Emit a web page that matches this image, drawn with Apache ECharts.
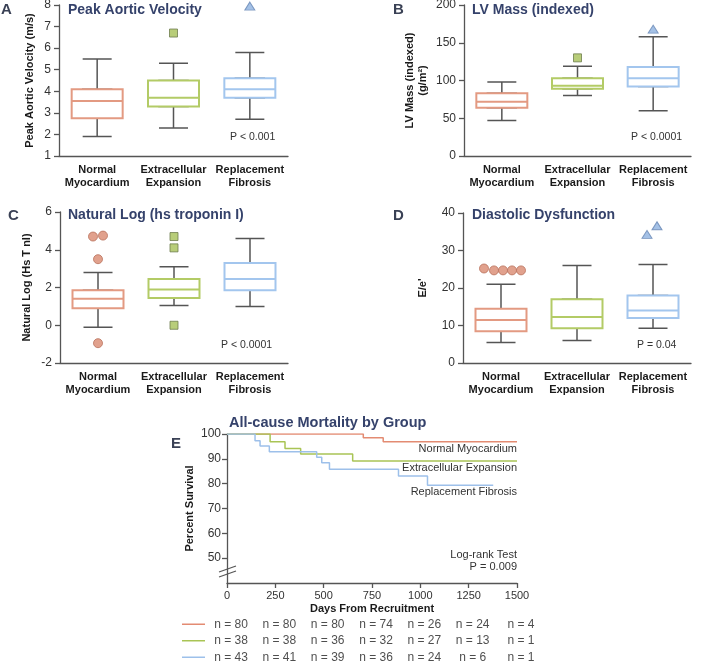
<!DOCTYPE html>
<html>
<head>
<meta charset="utf-8">
<script src="https://cdn.jsdelivr.net/npm/echarts@6/dist/echarts.min.js"></script>
<style>
html, body { margin: 0; padding: 0; background: #fff; }
#main { width: 708px; height: 663px; }
</style>
</head>
<body>
<div id="main"></div>
<script>
// groups
const groups = ['Normal\nMyocardium', 'Extracellular\nExpansion', 'Replacement\nFibrosis'];

// box stats: [min, Q1, median, Q3, max]
const peakVelBox = [[1.9, 2.75, 3.55, 4.1, 5.5], [2.3, 3.3, 3.7, 4.5, 5.3], [2.7, 3.7, 4.1, 4.6, 5.8]];
const lvMassBox = [[47, 64, 72, 83, 98], [80, 89, 93, 103, 119], [60, 92, 103, 118, 158]];
const tropBox = [[-0.1, 0.9, 1.4, 1.85, 2.8], [1.05, 1.45, 1.9, 2.45, 3.1], [1.0, 1.85, 2.45, 3.3, 4.6]];
const eeBox = [[5.5, 8.5, 11.5, 14.5, 21], [6, 9.3, 12.3, 17, 26], [9.3, 12, 14, 18, 26.3]];

// outliers: [group index, value]
const peakVelOut = [[1, 6.7], [2, 7.95]];
const lvMassOut = [[1, 130], [2, 168]];
const tropOut = [[0, 4.7], [0, 4.75], [0, 3.5], [0, -0.95], [1, 4.7], [1, 4.1], [1, 0.0]];
const eeOut = [[0, 25.2], [0, 24.7], [0, 24.7], [0, 24.7], [0, 24.7], [2, 34.3], [2, 36.6]];

const pValues = ['P < 0.001', 'P < 0.0001', 'P < 0.0001', 'P = 0.04'];

// Kaplan-Meier steps: [day, percent survival]
const kmNormal = [[0, 100], [705, 98.5], [808, 96.9], [1500, 96.9]];
const kmExtra = [[0, 100], [223, 96.9], [300, 94.2], [381, 91.9], [650, 89.1], [1500, 89.1]];
const kmRepl = [[0, 100], [145, 97.3], [171, 95.2], [219, 92.9], [464, 90.6], [490, 88.4], [530, 85.8], [887, 83.1], [1037, 79.4], [1377, 79.4]];
const kmNames = ['Normal Myocardium', 'Extracellular Expansion', 'Replacement Fibrosis'];

// numbers at risk
const riskDays = [0, 250, 500, 750, 1000, 1250, 1500];
const riskNormal = [80, 80, 80, 74, 26, 24, 4];
const riskExtra = [38, 38, 36, 32, 27, 13, 1];
const riskRepl = [43, 41, 39, 36, 24, 6, 1];

// styles
const FONT = '"Liberation Sans", Arial, Helvetica, sans-serif';
const boxCol = ['#e39a82', '#b3cb66', '#a3c6ee'];
const lineCol = ['#e38b72', '#a9c455', '#9dc0ea'];
const markFill = ['#d98a70', '#a6c058', '#8db2e0'];
const markEdge = ['#b9725c', '#6e7d4e', '#6585b3'];
const markSym = ['circle', 'rect', 'triangle'];
const markSize = [9, 8, [10, 8]];
const axisCol = '#555';
const tropJitter = [-5, 5, 0, 0, 0, 0, 0];
const eeJitter = [-17, -7, 2, 11, 20, -6, 4];

const panels = [
  { grid: { left: 59, top: 5, width: 229, height: 151 }, y: [1, 8, 1], name: 'Peak Aortic Velocity (m/s)', gap: 23,
    box: peakVelBox, out: peakVelOut, jit: null, title: 'Peak Aortic Velocity', tPos: [68, 3], letter: 'A', lPos: [1, 2], pPos: [230, 132] },
  { grid: { left: 464, top: 5, width: 227, height: 151 }, y: [0, 200, 50], name: 'LV Mass (indexed)\n(g/m²)', gap: 35,
    box: lvMassBox, out: lvMassOut, jit: null, title: 'LV Mass (indexed)', tPos: [472, 3], letter: 'B', lPos: [393, 2], pPos: [631, 132] },
  { grid: { left: 60, top: 212, width: 228, height: 151 }, y: [-2, 6, 2], name: 'Natural Log (Hs T nI)', gap: 27,
    box: tropBox, out: tropOut, jit: tropJitter, title: 'Natural Log (hs troponin I)', tPos: [68, 208], letter: 'C', lPos: [8, 208], pPos: [221, 340] },
  { grid: { left: 463, top: 213, width: 228, height: 150 }, y: [0, 40, 10], name: "E/e'", gap: 34,
    box: eeBox, out: eeOut, jit: eeJitter, title: 'Diastolic Dysfunction', tPos: [472, 208], letter: 'D', lPos: [393, 208], pPos: [637, 340] }
];

const grids = [], xAxes = [], yAxes = [], series = [], titles = [], graphics = [];

panels.forEach(function (p, i) {
  grids.push(Object.assign({ containLabel: false, outerBoundsMode: 'none' }, p.grid));
  xAxes.push({
    type: 'category', gridIndex: i, data: groups,
    axisLine: { onZero: false, lineStyle: { color: axisCol, width: 1.3 } },
    axisTick: { alignWithLabel: true, length: 5, lineStyle: { color: axisCol, width: 1.3 } },
    axisLabel: { fontFamily: FONT, fontSize: 11, fontWeight: 'bold', color: '#1a1a1a', lineHeight: 13, margin: 7, interval: 0 }
  });
  xAxes.push({ type: 'category', gridIndex: i, data: groups, show: false });
  yAxes.push({
    type: 'value', gridIndex: i, min: p.y[0], max: p.y[1], interval: p.y[2],
    name: p.name, nameLocation: 'middle', nameGap: p.gap, nameRotate: 90,
    nameTextStyle: { fontFamily: FONT, fontSize: 11, fontWeight: 'bold', color: '#1a1a1a', lineHeight: 13 },
    axisLine: { show: true, lineStyle: { color: axisCol, width: 1.3 } },
    axisTick: { show: true, length: 5, lineStyle: { color: axisCol, width: 1.3 } },
    axisLabel: { fontFamily: FONT, fontSize: 12, color: '#333', margin: 8 },
    splitLine: { show: false }
  });
  // whiskers (grey)
  series.push({
    type: 'boxplot', xAxisIndex: 2 * i, yAxisIndex: i, silent: true,
    boxWidth: [29, 29], data: p.box,
    itemStyle: { color: '#fff', borderColor: axisCol, borderWidth: 1.5 }
  });
  // coloured box on top
  series.push({
    type: 'boxplot', xAxisIndex: 2 * i + 1, yAxisIndex: i, silent: true,
    boxWidth: [51, 51],
    data: p.box.map(function (b, g) {
      return { value: [b[1], b[1], b[2], b[3], b[3]], itemStyle: { borderColor: boxCol[g] } };
    }),
    itemStyle: { color: '#fff', borderWidth: 2 }
  });
  series.push({
    type: 'scatter', xAxisIndex: 2 * i, yAxisIndex: i, silent: true, z: 5,
    data: p.out.map(function (o, k) {
      const g = o[0];
      return {
        value: [g, o[1]], symbol: markSym[g], symbolSize: markSize[g],
        symbolOffset: [p.jit ? p.jit[k] : 0, 0],
        itemStyle: { color: markFill[g], borderColor: markEdge[g], borderWidth: 1 }
      };
    })
  });
  titles.push({ text: p.title, left: p.tPos[0], top: p.tPos[1], padding: 0,
    textStyle: { fontFamily: FONT, fontSize: 14, fontWeight: 'bold', color: '#35426b' } });
  titles.push({ text: p.letter, left: p.lPos[0], top: p.lPos[1], padding: 0,
    textStyle: { fontFamily: FONT, fontSize: 15, fontWeight: 'bold', color: '#3a4155' } });
  graphics.push({ type: 'text', left: p.pPos[0], top: p.pPos[1],
    style: { text: pValues[i], font: '10.5px ' + FONT, fill: '#333' } });
});

// Panel E: survival
grids.push({ left: 227, top: 434, width: 290, height: 149, containLabel: false, outerBoundsMode: 'none' });
grids.push({ left: 227, top: 616, width: 290, height: 49.5, containLabel: false, outerBoundsMode: 'none' });

xAxes.push({
  type: 'value', gridIndex: 4, min: 0, max: 1500, interval: 250,
  name: 'Days From Recruitment', nameLocation: 'middle', nameGap: 20,
  nameTextStyle: { fontFamily: FONT, fontSize: 11, fontWeight: 'bold', color: '#1a1a1a', verticalAlign: 'top' },
  axisLine: { onZero: false, lineStyle: { color: axisCol, width: 1.3 } },
  axisTick: { length: 5, lineStyle: { color: axisCol, width: 1.3 } },
  axisLabel: { fontFamily: FONT, fontSize: 11, color: '#333', margin: 7, formatter: function (v) { return String(v); } },
  splitLine: { show: false }
});
xAxes.push({ type: 'value', gridIndex: 5, min: 0, max: 1500, show: false });

yAxes.push({
  type: 'value', gridIndex: 4, min: 40, max: 100, interval: 10,
  name: 'Percent Survival', nameLocation: 'middle', nameGap: 32, nameRotate: 90,
  nameTextStyle: { fontFamily: FONT, fontSize: 11, fontWeight: 'bold', color: '#1a1a1a' },
  axisLine: { show: true, onZero: false, lineStyle: { color: axisCol, width: 1.3 } },
  axisTick: { show: true, length: 5, customValues: [50, 60, 70, 80, 90, 100], lineStyle: { color: axisCol, width: 1.3 } },
  axisLabel: { fontFamily: FONT, fontSize: 12, color: '#333', margin: 6, customValues: [50, 60, 70, 80, 90, 100] },
  splitLine: { show: false }
});
yAxes.push({
  type: 'category', gridIndex: 5, inverse: true, data: ['r0', 'r1', 'r2'],
  axisLine: { show: false }, axisTick: { show: false },
  axisLabel: {
    margin: 22,
    formatter: function (v) { return '{' + v + '| }'; },
    rich: {
      r0: { width: 23, height: 1.5, backgroundColor: lineCol[0] },
      r1: { width: 23, height: 1.5, backgroundColor: lineCol[1] },
      r2: { width: 23, height: 1.5, backgroundColor: lineCol[2] }
    }
  }
});

[kmNormal, kmExtra, kmRepl].forEach(function (d, k) {
  series.push({
    type: 'line', xAxisIndex: 8, yAxisIndex: 4, step: 'end', data: d,
    showSymbol: false, silent: true,
    lineStyle: { color: lineCol[k], width: 1.5 }
  });
});

[riskNormal, riskExtra, riskRepl].forEach(function (row, k) {
  series.push({
    type: 'scatter', xAxisIndex: 9, yAxisIndex: 5, silent: true,
    symbolSize: 1, itemStyle: { color: 'rgba(0,0,0,0)' },
    data: row.map(function (n, j) { return [riskDays[j], k, n]; }),
    label: {
      show: true, position: 'inside', offset: [4, 0],
      formatter: function (p) { return 'n = ' + p.value[2]; },
      fontFamily: FONT, fontSize: 12, color: '#222'
    }
  });
});

titles.push({ text: 'All-cause Mortality by Group', left: 229, top: 415, padding: 0,
  textStyle: { fontFamily: FONT, fontSize: 14.5, fontWeight: 'bold', color: '#35426b' } });
titles.push({ text: 'E', left: 171, top: 436, padding: 0,
  textStyle: { fontFamily: FONT, fontSize: 15, fontWeight: 'bold', color: '#3a4155' } });

const kmLabelTop = [443, 462, 486];
kmNames.forEach(function (t, k) {
  graphics.push({ type: 'text', right: 708 - 517, top: kmLabelTop[k],
    style: { text: t, font: '11px ' + FONT, fill: '#333' } });
});
graphics.push({ type: 'text', right: 708 - 517, top: 549,
  style: { text: 'Log-rank Test', font: '11px ' + FONT, fill: '#333' } });
graphics.push({ type: 'text', right: 708 - 517, top: 561,
  style: { text: 'P = 0.009', font: '11px ' + FONT, fill: '#333' } });
// axis break mark
graphics.push({ type: 'line', shape: { x1: 219, y1: 572, x2: 236, y2: 566 }, style: { stroke: axisCol, lineWidth: 1.2 } });
graphics.push({ type: 'line', shape: { x1: 219, y1: 577, x2: 236, y2: 571 }, style: { stroke: axisCol, lineWidth: 1.2 } });

const chart = echarts.init(document.getElementById('main'));
chart.setOption({
  animation: false,
  backgroundColor: '#fff',
  title: titles,
  grid: grids,
  xAxis: xAxes,
  yAxis: yAxes,
  series: series,
  graphic: graphics
});
</script>
</body>
</html>
